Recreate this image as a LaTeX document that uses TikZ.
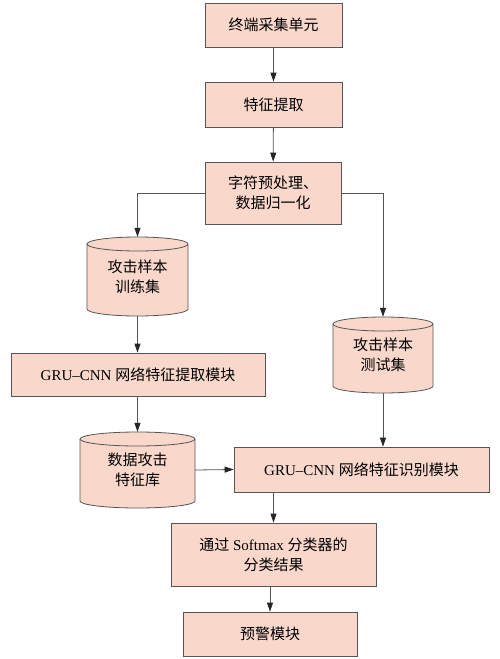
\documentclass[tikz,border=0pt]{standalone}
\usepackage{fontspec}
\setmainfont{Liberation Serif}
\newfontfamily\cjk{Noto Sans CJK SC}
\usetikzlibrary{arrows.meta}
\definecolor{boxfill}{RGB}{249,216,203}
\definecolor{boxline}{RGB}{85,85,85}
\tikzset{
  stepbox/.style={draw=boxline, fill=boxfill, line width=0.8pt, inner sep=0pt, align=center,
    font=\fontsize{15}{20}\selectfont},
  cyltext/.style={inner sep=0pt, align=center, font=\fontsize{15}{20}\selectfont},
  cylshape/.style={draw=boxline, fill=boxfill, line width=0.8pt},
  arr/.style={draw=boxline, line width=0.8pt, -{Triangle[length=9pt,width=6pt,color=black!85]}},
}
\newcommand\mycyl[4]{% cx, top y, width, height (pt), ry=7
  \pgfmathsetmacro\rx{#3/2}
  \path[cylshape] (#1-\rx,-#2-7) -- (#1-\rx,-#2-#4+7)
    arc[start angle=180,end angle=360,x radius=\rx,y radius=7]
    -- (#1+\rx,-#2-7)
    arc[start angle=0,end angle=180,x radius=\rx,y radius=7] -- cycle;
  \draw[boxline, line width=0.8pt] (#1-\rx,-#2-7) arc[start angle=180,end angle=360,x radius=\rx,y radius=7];
}
\begin{document}
\begin{tikzpicture}[x=1pt,y=1pt]
\useasboundingbox (0,0) rectangle (500,-659);
\fill[white] (0,0) rectangle (500,-659);

\node[stepbox, minimum width=137, minimum height=44] (b1) at (273.5,-25) {\cjk 终端采集单元};
\node[stepbox, minimum width=137, minimum height=45] (b2) at (273.5,-104.5) {\cjk 特征提取};
\node[stepbox, minimum width=136, minimum height=62] (b3) at (273,-193) {\cjk 字符预处理、\\\cjk 数据归一化};

\mycyl{137.5}{237}{101}{79}
\node[cyltext, minimum width=101, minimum height=79] (c1) at (137.5,-276.5) {\cjk 攻击样本\\\cjk 训练集};

\mycyl{383}{317}{100}{76}
\node[cyltext, minimum width=100, minimum height=76] (c2) at (383,-355) {\cjk 攻击样本\\\cjk 测试集};

\node[stepbox, minimum width=254, minimum height=43] (b4) at (138,-374.5) {GRU–CNN {\cjk 网络特征提取模块}};

\mycyl{137.5}{432}{115}{76}
\node[cyltext, minimum width=115, minimum height=76] (c3) at (137.5,-470) {\cjk 数据攻击\\\cjk 特征库};

\node[stepbox, minimum width=255, minimum height=45] (b5) at (361.5,-469.5) {GRU–CNN {\cjk 网络特征识别模块}};
\node[stepbox, minimum width=205, minimum height=63] (b6) at (273.5,-554.5) {{\cjk 通过} Softmax {\cjk 分类器的}\\\cjk 分类结果};
\node[stepbox, minimum width=174, minimum height=44] (b7) at (270,-634) {\cjk 预警模块};

\draw[arr] (b1) -- (b2);
\draw[arr] (b2) -- (b3);
\draw[arr] (b3.west) -| (c1.north);
\draw[arr] (b3.east) -| (c2.north);
\draw[arr] (c1.south) -- (c1.south |- b4.north);
\draw[arr] (b4.south -| c3.north) -- (c3.north);
\draw[arr] (c3.east) -- (b5.west);
\draw[arr] (c2.south) -- (c2.south |- b5.north);
\draw[arr] (b6.north |- b5.south) -- (b6.north);
\draw[arr] (b7.north |- b6.south) -- (b7.north);
\end{tikzpicture}
\end{document}
